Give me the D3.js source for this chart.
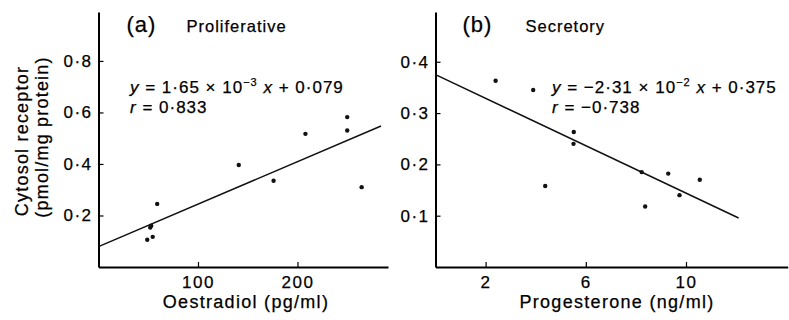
<!DOCTYPE html>
<html>
<head>
<meta charset="utf-8">
<script src="https://cdn.jsdelivr.net/npm/d3@7"></script>
<style>
  body { margin: 0; background: #fff; }
  svg { font-family: "Liberation Sans", Arial, sans-serif; }
  svg text { fill: #000; stroke: #000; stroke-width: 0.25; }
</style>
</head>
<body>
<svg width="789" height="320"></svg>
<script>
// panel (a) proliferative: oestradiol vs receptor
var oestradiol = [49, 52, 53, 54.5, 59, 141, 176, 208, 250, 250, 264.5];
var receptorA  = [0.106, 0.153, 0.160, 0.117, 0.245, 0.396, 0.335, 0.517, 0.582, 0.530, 0.310];
var ticksXA = [100, 200];
var ticksYA = [0.2, 0.4, 0.6, 0.8];
var fitA = [0.079, 1.65e-3]; // intercept, slope
var fitRangeA = [0, 284];

// panel (b) secretory: progesterone vs receptor
var progesterone = [2.4, 3.9, 5.52, 5.51, 4.38, 8.23, 9.29, 10.55, 9.74, 8.37];
var receptorB    = [0.363, 0.345, 0.263, 0.240, 0.158, 0.185, 0.182, 0.170, 0.140, 0.118];
var ticksXB = [2, 6, 10];
var ticksYB = [0.1, 0.2, 0.3, 0.4];
var fitB = [0.375, -2.31e-2];
var fitRangeB = [0, 12.1];

var svg = d3.select("svg");
var fmt = function(d) { return d3.format(".1f")(d).replace(".", "\u00b7"); };

function panel(opt) {
  var x = d3.scaleLinear().domain(opt.xdom).range(opt.xr);
  var y = d3.scaleLinear().domain(opt.ydom).range([267, 12]);
  var g = svg.append("g");

  var ax = g.append("g")
      .attr("transform", "translate(0,267)")
      .call(d3.axisBottom(x).tickValues(opt.xticks).tickSizeInner(-5).tickSizeOuter(0).tickPadding(9));
  var ay = g.append("g")
      .attr("transform", "translate(" + opt.xr[0] + ",0)")
      .call(d3.axisLeft(y).tickValues(opt.yticks).tickFormat(fmt).tickSizeInner(-5).tickSizeOuter(0).tickPadding(6));
  [ax, ay].forEach(function(a) {
    a.select(".domain").attr("stroke-width", 2);
    a.selectAll(".tick line").attr("stroke-width", 1.2);
    a.selectAll("text").attr("font-size", 17).attr("letter-spacing", 1.5)
      .attr("font-family", null).attr("fill", null);
  });
  ax.selectAll("text").attr("dy", "0.71em");

  // fitted line
  g.append("path")
      .datum(opt.fitRange)
      .attr("fill", "none")
      .attr("stroke", "#111")
      .attr("stroke-width", 1.5)
      .attr("d", d3.line()
        .x(function(d) { return x(d); })
        .y(function(d) { return y(opt.fit[0] + opt.fit[1] * d); }));

  g.selectAll("circle")
      .data(opt.xs)
      .enter().append("circle")
      .attr("cx", function(d) { return x(d); })
      .attr("cy", function(d, i) { return y(opt.ys[i]); })
      .attr("r", 2.2)
      .attr("fill", "#111");

  g.append("text")
      .attr("x", opt.xr[0] + opt.labelDx)
      .attr("y", 32)
      .attr("font-size", 22)
      .attr("letter-spacing", 1)
      .text(opt.label);
  g.append("text")
      .attr("x", opt.xr[0] + opt.nameDx)
      .attr("y", 32)
      .attr("font-size", 16.5)
      .attr("letter-spacing", 1)
      .text(opt.name);

  // equation
  var eq = g.append("text")
      .attr("x", opt.eqX)
      .attr("y", 93)
      .attr("font-size", 17)
      .attr("letter-spacing", 1);
  eq.append("tspan").attr("font-style", "italic").text("y");
  eq.append("tspan").text(" = " + opt.eq[0] + " \u00d7 10");
  eq.append("tspan").attr("font-size", 11).attr("dy", -7).text(opt.eq[1]);
  eq.append("tspan").attr("dy", 7).text(" ");
  eq.append("tspan").attr("font-style", "italic").text("x");
  eq.append("tspan").text(" + " + opt.eq[2]);
  var rr = g.append("text")
      .attr("x", opt.eqX)
      .attr("y", 113)
      .attr("font-size", 17)
      .attr("letter-spacing", 1);
  rr.append("tspan").attr("font-style", "italic").text("r");
  rr.append("tspan").text(" = " + opt.r);

  g.append("text")
      .attr("x", opt.titleX)
      .attr("y", 308)
      .attr("text-anchor", "middle")
      .attr("font-size", 18)
      .attr("letter-spacing", 1.3)
      .text(opt.xtitle);
}

panel({
  xdom: [0, 291], xr: [98.5, 388], xticks: ticksXA, yticks: ticksYA, ydom: [0, 0.99],
  xs: oestradiol, ys: receptorA, fit: fitA, fitRange: fitRangeA,
  label: "(a)", labelDx: 28, name: "Proliferative", nameDx: 88,
  eqX: 130, eq: ["1\u00b765", "\u22123", "0\u00b7079"], r: "0\u00b7833",
  xtitle: "Oestradiol (pg/ml)", titleX: 246
});

panel({
  xdom: [0, 14.06], xr: [435.5, 787.7], xticks: ticksXB, yticks: ticksYB, ydom: [0, 0.497],
  xs: progesterone, ys: receptorB, fit: fitB, fitRange: fitRangeB,
  label: "(b)", labelDx: 27, name: "Secretory", nameDx: 90,
  eqX: 552, eq: ["\u22122\u00b731", "\u22122", "0\u00b7375"], r: "\u22120\u00b7738",
  xtitle: "Progesterone (ng/ml)", titleX: 617
});

// y axis title (shared, left side)
var yt = svg.append("text")
    .attr("transform", "translate(28,141) rotate(-90)")
    .attr("text-anchor", "middle")
    .attr("font-size", 18)
    .attr("letter-spacing", 1.2);
yt.append("tspan").attr("x", 0).attr("dy", 0).text("Cytosol receptor");
yt.append("tspan").attr("x", 4).attr("dy", 20).text("(pmol/mg protein)");
</script>
</body>
</html>
